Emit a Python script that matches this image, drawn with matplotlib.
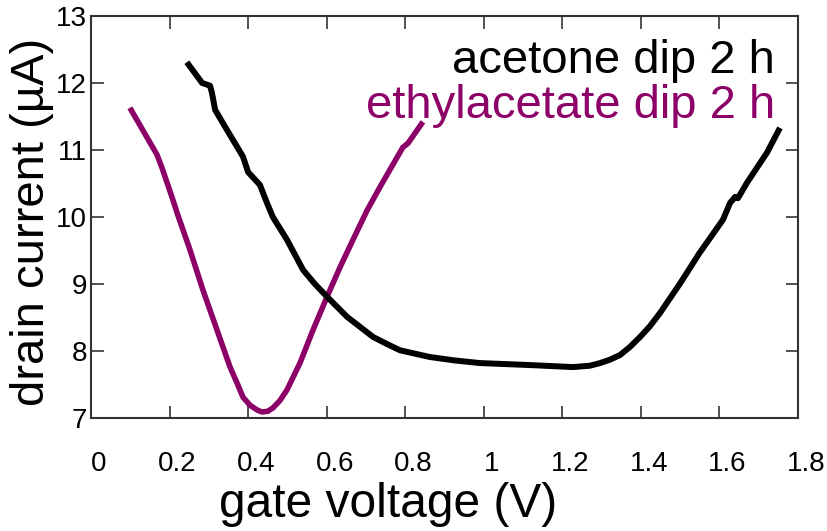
import matplotlib
matplotlib.use('Agg')
import matplotlib.pyplot as plt
import matplotlib.transforms as mtransforms

plt.rcParams['font.family'] = ['Liberation Sans', 'DejaVu Sans']

# acetone dip 2 h
acetone_v = [0.244, 0.283, 0.303, 0.308, 0.316, 0.336, 0.387, 0.400, 0.430, 0.448,
             0.463, 0.499, 0.540, 0.570, 0.601, 0.652, 0.685, 0.718, 0.755, 0.787,
             0.825, 0.863, 0.925, 0.990, 1.118, 1.227, 1.270, 1.296, 1.321, 1.347,
             1.372, 1.398, 1.423, 1.449, 1.500, 1.549, 1.609, 1.627, 1.640, 1.647,
             1.670, 1.721, 1.754]
acetone_i = [12.31, 12.00, 11.96, 11.85, 11.60, 11.40, 10.90, 10.67, 10.48, 10.21,
             10.00, 9.66, 9.21, 9.00, 8.81, 8.51, 8.36, 8.21, 8.10, 8.01,
             7.96, 7.91, 7.86, 7.82, 7.79, 7.76, 7.78, 7.82, 7.87, 7.94,
             8.06, 8.21, 8.37, 8.57, 9.01, 9.46, 9.96, 10.21, 10.30, 10.28,
             10.51, 10.96, 11.33]

# ethylacetate dip 2 h
ethyl_v = [0.099, 0.168, 0.181, 0.206, 0.221, 0.252, 0.285, 0.321, 0.354, 0.372,
           0.387, 0.405, 0.423, 0.435, 0.450, 0.463, 0.481, 0.499, 0.532, 0.565,
           0.601, 0.634, 0.667, 0.703, 0.736, 0.794, 0.807, 0.845]
ethyl_i = [11.63, 10.93, 10.73, 10.30, 10.03, 9.51, 8.91, 8.31, 7.76, 7.52,
           7.31, 7.19, 7.12, 7.09, 7.10, 7.15, 7.26, 7.42, 7.82, 8.31,
           8.81, 9.25, 9.66, 10.10, 10.45, 11.04, 11.10, 11.42]

xticks = [0, 0.2, 0.4, 0.6, 0.8, 1, 1.2, 1.4, 1.6, 1.8]
xticklabels = ['0', '0.2', '0.4', '0.6', '0.8', '1', '1.2', '1.4', '1.6', '1.8']
yticks = [7, 8, 9, 10, 11, 12, 13]

purple = '#8c0068'
grey = '#333333'

fig = plt.figure(figsize=(8.28, 5.31), dpi=100)
ax = fig.add_axes([91/828, 1-418/531, (798-91)/828, (418-16)/531])

ax.plot(acetone_v, acetone_i, color='black', lw=4.3, solid_capstyle='butt',
        solid_joinstyle='round', zorder=3)
ax.plot(ethyl_v, ethyl_i, color=purple, lw=4.0, solid_capstyle='butt',
        solid_joinstyle='round', zorder=2)

ax.set_xlim(0, 1.8)
ax.set_ylim(7, 13)
ax.set_xticks(xticks)
ax.set_xticklabels(xticklabels)
ax.set_yticks(yticks)

for s in ax.spines.values():
    s.set_color(grey)
    s.set_linewidth(1.5)

ax.tick_params(direction='in', length=9, width=1.2, color=grey,
               top=True, right=True, labelsize=20)
ax.tick_params(axis='x', pad=24)
ax.tick_params(axis='y', pad=3)

# shift x tick labels a little to the right, like the original
off = mtransforms.ScaledTranslation(8/100, 0, fig.dpi_scale_trans)
for lab in ax.get_xticklabels():
    lab.set_transform(lab.get_transform() + off)

fig.text(388/828, 1-517/531, 'gate voltage (V)', ha='center', va='baseline', fontsize=34.5)
fig.text(32/828, 1-222/531, 'drain current (µA)', ha='center', va='center',
         rotation=90, fontsize=34)

fig.text(775/828, 1-73/531, 'acetone dip 2 h', ha='right', va='baseline',
         fontsize=34, color='black')
fig.text(775/828, 1-118/531, 'ethylacetate dip 2 h', ha='right', va='baseline',
         fontsize=34, color=purple)

fig.savefig('out.png', dpi=100)
